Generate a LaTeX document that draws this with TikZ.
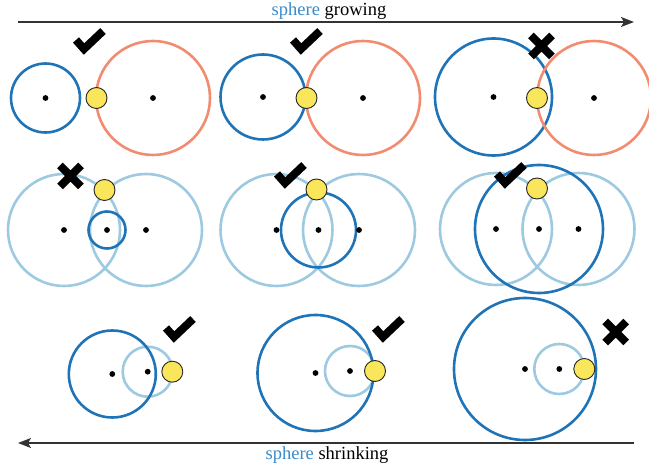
\documentclass[tikz,border=0pt]{standalone}
\usepackage{fontspec}
\setmainfont{Liberation Serif}
\usetikzlibrary{arrows.meta}
\definecolor{sdark}{HTML}{1F73B7}
\definecolor{slight}{HTML}{9ECAE1}
\definecolor{ssalmon}{HTML}{F28C70}
\definecolor{pyellow}{HTML}{FAE65A}
\definecolor{stext}{HTML}{3A8AC8}
\begin{document}
\begin{tikzpicture}[x=1pt,y=-1pt,
  ring/.style={line width=2.6pt},
  darkring/.style={ring,draw=sdark},
  lightring/.style={ring,draw=slight},
  salmonring/.style={ring,draw=ssalmon},
  ctr/.style={circle,fill=black,inner sep=0pt,minimum size=5.8pt},
  probe/.style={circle,fill=pyellow,draw=black!85,line width=0.9pt,inner sep=0pt,minimum size=21pt},
  timeline/.style={line width=1.4pt,draw=black!80,-{Stealth[length=13pt,width=10pt,inset=3pt]}},
  caption/.style={font=\fontsize{18.5}{22}\selectfont,anchor=base,inner sep=0pt},
  okmark/.pic={\draw[line width=8pt,line join=miter] (-13,-2) -- (-5,7) -- (14,-11);},
  nomark/.pic={\draw[line width=8pt] (-10.5,-10.5) -- (10.5,10.5) (-10.5,10.5) -- (10.5,-10.5);}
]
\useasboundingbox (0,0) rectangle (649,470);

% time axes
\coordinate (gs) at (18,22);
\coordinate (ge) at (634,22);
\coordinate (ss) at (634,443);
\coordinate (se) at (18,443);
\draw[timeline] (gs) -- (ge);
\draw[timeline] (ss) -- (se);
\node[caption] (gtxt) at (329,16) {\textcolor{stext}{sphere} growing};
\node[caption] (stxt) at (327,460) {\textcolor{stext}{sphere} shrinking};

% ---- row 1: sphere against a second sphere ----
\draw[darkring] (45.5,98) circle[radius=34.5];
\draw[salmonring] (153,98) circle[radius=57];
\node[ctr] (a1) at (45.5,98) {};
\node[ctr] (a2) at (153,98) {};
\node[probe] (pa) at (96.5,98) {};
\pic at (89,42) {okmark};

\draw[darkring] (263,97) circle[radius=42.5];
\draw[salmonring] (363,98) circle[radius=57];
\node[ctr] (b1) at (263,97) {};
\node[ctr] (b2) at (363,98) {};
\node[probe] (pb) at (306.5,98) {};
\pic at (306,42) {okmark};

\draw[darkring] (493.5,97) circle[radius=58.5];
\draw[salmonring] (594,98) circle[radius=57];
\node[ctr] (c1) at (493.5,97) {};
\node[ctr] (c2) at (594,98) {};
\node[probe] (pc) at (537,98) {};
\pic at (541.5,46) {nomark};

% ---- row 2: sphere between two spheres ----
\draw[lightring] (64,230) circle[radius=56];
\draw[lightring] (146,230) circle[radius=56];
\draw[darkring] (107,230) circle[radius=18.5];
\node[ctr] (d1) at (64,230) {};
\node[ctr] (d2) at (107,230) {};
\node[ctr] (d3) at (146,230) {};
\node[probe] (pd) at (104.5,190) {};
\pic at (70.5,176) {nomark};

\draw[lightring] (276.5,230) circle[radius=56];
\draw[lightring] (359,230) circle[radius=56];
\draw[darkring] (318.5,230) circle[radius=37.5];
\node[ctr] (e1) at (276.5,230) {};
\node[ctr] (e2) at (318.5,230) {};
\node[ctr] (e3) at (359,230) {};
\node[probe] (pe) at (316.5,189.5) {};
\pic at (290,176) {okmark};

\draw[lightring] (496,229) circle[radius=56];
\draw[lightring] (578.5,229) circle[radius=56];
\draw[darkring] (539,229) circle[radius=64];
\node[ctr] (f1) at (496,229) {};
\node[ctr] (f2) at (539,229) {};
\node[ctr] (f3) at (578.5,229) {};
\node[probe] (pf) at (537,188.5) {};
\pic at (510,176) {okmark};

% ---- row 3: sphere around a smaller sphere ----
\draw[lightring] (147.7,371.7) circle[radius=25];
\draw[darkring] (112.3,374) circle[radius=43.5];
\node[ctr] (g1) at (112.3,374) {};
\node[ctr] (g2) at (147.7,371.7) {};
\node[probe] (pg) at (172.3,371.7) {};
\pic at (179,330) {okmark};

\draw[lightring] (350,371) circle[radius=25];
\draw[darkring] (315.5,373) circle[radius=58];
\node[ctr] (h1) at (315.5,373) {};
\node[ctr] (h2) at (350,371) {};
\node[probe] (ph) at (375,371) {};
\pic at (388,330) {okmark};

\draw[lightring] (559.3,369) circle[radius=25];
\draw[darkring] (525,369) circle[radius=71];
\node[ctr] (i1) at (525,369) {};
\node[ctr] (i2) at (559.3,369) {};
\node[probe] (pi) at (584.3,369) {};
\pic at (615.7,332) {nomark};
\end{tikzpicture}
\end{document}
